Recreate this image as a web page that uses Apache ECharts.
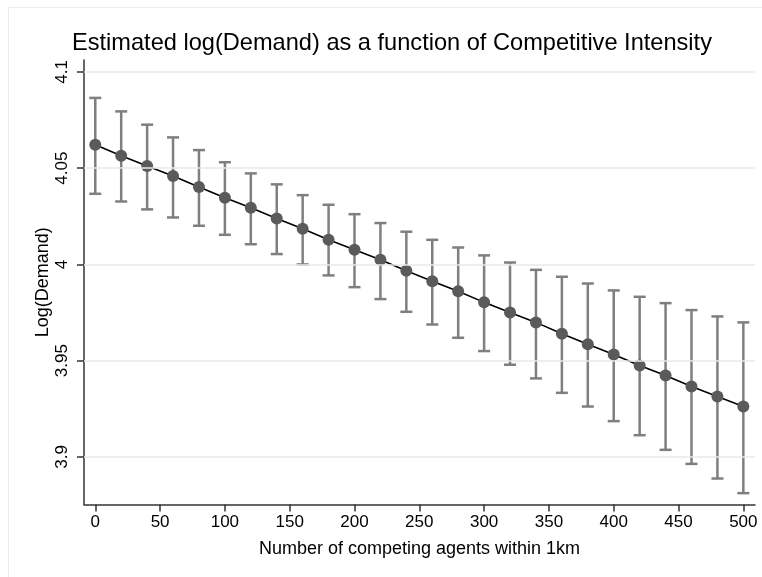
<!DOCTYPE html>
<html lang="en">
<head>
    <meta charset="UTF-8">
    <title>Estimated log(Demand)</title>
    <script src="https://cdn.jsdelivr.net/npm/echarts@6/dist/echarts.min.js"></script>
    <style>
        html, body { margin: 0; padding: 0; background: #fff; }
        #chart { width: 762px; height: 577px; }
    </style>
</head>
<body>
<div id="chart"></div>
<script type="text/javascript">
    // competing agents within 1km
    const agents = [0, 20, 40, 60, 80, 100, 120, 140, 160, 180, 200, 220, 240,
        260, 280, 300, 320, 340, 360, 380, 400, 420, 440, 460, 480, 500];
    // point estimates of log(Demand)
    const estimate = [4.0622, 4.0565, 4.0511, 4.0459, 4.0402, 4.0346, 4.0294, 4.0239, 4.0185,
        4.0128, 4.0076, 4.0024, 3.9967, 3.9913, 3.9861, 3.9803, 3.9750, 3.9699, 3.9640,
        3.9586, 3.9532, 3.9475, 3.9423, 3.9366, 3.9314, 3.9262];
    // upper / lower confidence limits
    const upper = [4.0865, 4.0795, 4.0726, 4.0660, 4.0594, 4.0531, 4.0473, 4.0416, 4.0360,
        4.0310, 4.0261, 4.0215, 4.0170, 4.0128, 4.0088, 4.0047, 4.0010, 3.9972, 3.9936,
        3.9901, 3.9865, 3.9832, 3.9799, 3.9763, 3.9730, 3.9699];
    const lower = [4.0367, 4.0327, 4.0286, 4.0244, 4.0201, 4.0154, 4.0105, 4.0054, 4.0000,
        3.9943, 3.9882, 3.9820, 3.9754, 3.9688, 3.9619, 3.9550, 3.9479, 3.9408, 3.9333,
        3.9262, 3.9186, 3.9113, 3.9037, 3.8964, 3.8888, 3.8812];
    const xTicks = [0, 50, 100, 150, 200, 250, 300, 350, 400, 450, 500];
    const yTicks = [3.9, 3.95, 4, 4.05, 4.1];

    const chart = echarts.init(document.getElementById('chart'));
    const fontFamily = '"Liberation Sans", Arial, sans-serif';

    const option = {
        animation: false,
        backgroundColor: '#fff',
        graphic: [{
            type: 'rect',
            shape: { x: 8.5, y: 7.5, width: 800, height: 600 },
            style: { fill: 'none', stroke: '#ececec', lineWidth: 1 },
            z: -1
        }],
        title: {
            text: 'Estimated log(Demand) as a function of Competitive Intensity',
            left: 67,
            top: 26,
            textStyle: { fontFamily: fontFamily, fontWeight: 'normal', fontSize: 23.6, color: '#000' }
        },
        grid: { left: 84, top: 60, right: 7, bottom: 72.5 },
        xAxis: {
            type: 'value',
            min: -8.7,
            max: 509,
            name: 'Number of competing agents within 1km',
            nameLocation: 'middle',
            nameGap: 36,
            nameMoveOverlap: false,
            nameTextStyle: { fontFamily: fontFamily, fontSize: 18, color: '#000' },
            axisLine: { show: true, onZero: false, lineStyle: { color: '#333', width: 1.5 } },
            axisTick: { show: true, length: 7, customValues: xTicks, lineStyle: { color: '#333', width: 1.5 } },
            axisLabel: { customValues: xTicks, fontFamily: fontFamily, fontSize: 17, color: '#000', margin: 9 },
            splitLine: { show: false }
        },
        yAxis: {
            type: 'value',
            min: 3.8753,
            max: 4.1062,
            name: 'Log(Demand)',
            nameLocation: 'middle',
            nameGap: 32,
            nameMoveOverlap: false,
            nameTextStyle: { fontFamily: fontFamily, fontSize: 18, color: '#000' },
            axisLine: { show: true, onZero: false, lineStyle: { color: '#333', width: 1.5 } },
            axisTick: { show: true, length: 7, customValues: yTicks, lineStyle: { color: '#333', width: 1.5 } },
            axisLabel: {
                customValues: yTicks,
                rotate: 90,
                fontFamily: fontFamily,
                fontSize: 17,
                color: '#000',
                margin: 13,
                formatter: (v) => String(+Number(v).toFixed(2))
            },
            splitLine: { show: false }
        },
        series: [
            {
                name: 'grid',
                type: 'line',
                data: [],
                silent: true,
                markLine: {
                    silent: true,
                    symbol: 'none',
                    label: { show: false },
                    lineStyle: { color: '#e9e9e9', width: 1.5, type: 'solid' },
                    data: yTicks.map((v) => ({ yAxis: v }))
                },
                z: 0
            },
            {
                name: 'ci',
                type: 'custom',
                data: agents.map((x, i) => [x, lower[i], upper[i]]),
                renderItem: (params, api) => {
                    const lo = api.coord([api.value(0), api.value(1)]);
                    const hi = api.coord([api.value(0), api.value(2)]);
                    const cap = 6;
                    const style = { stroke: '#7f7f7f', lineWidth: 2.5 };
                    return {
                        type: 'group',
                        children: [
                            { type: 'line', shape: { x1: lo[0], y1: lo[1], x2: hi[0], y2: hi[1] }, style: style },
                            { type: 'line', shape: { x1: lo[0] - cap, y1: lo[1], x2: lo[0] + cap, y2: lo[1] }, style: style },
                            { type: 'line', shape: { x1: hi[0] - cap, y1: hi[1], x2: hi[0] + cap, y2: hi[1] }, style: style }
                        ]
                    };
                },
                z: 2
            },
            {
                name: 'fit',
                type: 'line',
                data: agents.map((x, i) => [x, estimate[i]]),
                showSymbol: false,
                lineStyle: { color: '#000', width: 1.6 },
                z: 3
            },
            {
                name: 'estimate',
                type: 'scatter',
                data: agents.map((x, i) => [x, estimate[i]]),
                symbolSize: 12,
                itemStyle: { color: '#5a5a5a', opacity: 1 },
                z: 4
            }
        ]
    };
    chart.setOption(option);
</script>
</body>
</html>
